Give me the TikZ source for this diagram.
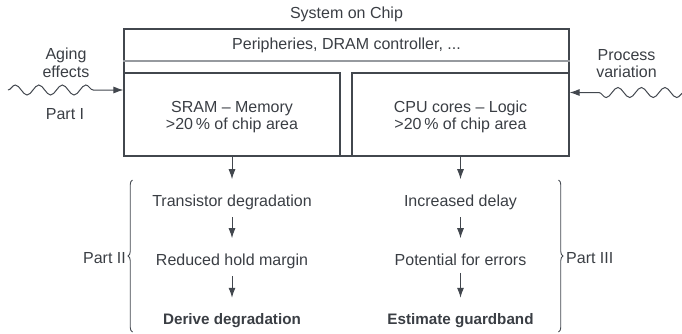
\documentclass[tikz,border=0pt]{standalone}
\usepackage{fontspec}
\setmainfont{Liberation Sans}
\usetikzlibrary{arrows.meta,decorations.pathmorphing,decorations.pathreplacing}
\definecolor{lc}{RGB}{66,71,78}
\definecolor{tc}{RGB}{58,62,68}
\definecolor{pc}{RGB}{150,154,159}
\begin{document}
\begin{tikzpicture}[x=1pt,y=-1pt,
  txt/.style={text=tc,font=\fontsize{16}{18}\selectfont,inner sep=0pt,anchor=base},
  btxt/.style={txt,font=\fontsize{15.2}{18}\bfseries\selectfont},
  box/.style={draw=lc,line width=1.1pt,inner sep=0pt},
  arr/.style={draw=lc,line width=1pt,-{Latex[length=10pt,width=7pt]}},
  flow/.style={arr,shorten <=7.5pt,shorten >=15pt},
  wave/.style={arr,decorate,decoration={snake,segment length=23.5pt,amplitude=5pt}},
  brc/.style={draw=lc,line width=0.9pt,decorate,decoration={brace,amplitude=4.5pt}}]
\useasboundingbox (0,0) rectangle (682,333);
% chip
\node[box,minimum width=445pt,minimum height=127pt] (soc) at (346.5,92.5) {};
\draw[pc,line width=1.1pt] (soc.west |- 0,61) coordinate (pl) -- (soc.east |- 0,61) coordinate (pr);
\node[box,minimum width=216pt,minimum height=83pt] (sram) at (232,114.5) {};
\node[box,minimum width=217pt,minimum height=83pt] (cpu) at (460.5,114.5) {};
\node[txt] (soct) at (346.5,18.3) {System on Chip};
\node[txt] (peri) at (346.5,49.3) {Peripheries, DRAM controller, ...};
\node[txt] (sram1) at (232,112.5) {SRAM – Memory};
\node[txt] (sram2) at (232,129.5) {{>}20\,\% of chip area};
\node[txt] (cpu1) at (460.5,112.5) {CPU cores – Logic};
\node[txt] (cpu2) at (460.5,129.5) {{>}20\,\% of chip area};
% influences
\node[txt] (ag1) at (66,59.5) {Aging};
\node[txt] (ag2) at (66,77.3) {effects};
\node[txt] (p1) at (65,119.3) {Part I};
\node[txt] (pv1) at (626.5,60) {Process};
\node[txt] (pv2) at (626.5,77.3) {variation};
\coordinate (wl) at (8,90);
\coordinate (wr) at (684,92.5);
\draw[wave,decoration={post length=22pt}] (wl) -- (sram.west |- wl);
\draw[wave,decoration={post length=19pt}] (wr) -- (cpu.east |- wr);
% chains
\node[txt] (l1) at (232,206) {Transistor degradation};
\node[txt] (l2) at (232,265) {Reduced hold margin};
\node[btxt] (l3) at (232,324) {Derive degradation};
\node[txt] (r1) at (460.5,206) {Increased delay};
\node[txt] (r2) at (460.5,265) {Potential for errors};
\node[btxt] (r3) at (460.5,324) {Estimate guardband};
\draw[arr,shorten >=15pt] (sram.south) -- (l1.north);
\draw[flow] (l1.south) -- (l2.north);
\draw[flow] (l2.south) -- (l3.north);
\draw[arr,shorten >=15pt] (cpu.south) -- (r1.north);
\draw[flow] (r1.south) -- (r2.north);
\draw[flow] (r2.south) -- (r3.north);
% braces
\coordinate (bl1) at (132.5,332);
\coordinate (bl2) at (132.5,180);
\coordinate (br1) at (558.5,180);
\coordinate (br2) at (558.5,332);
\draw[brc] (bl1) -- (bl2);
\draw[brc] (br1) -- (br2);
\node[txt,anchor=base east] (p2) at (126,263.3) {Part II};
\node[txt,anchor=base west] (p3) at (566,263.3) {Part III};
\end{tikzpicture}
\end{document}
